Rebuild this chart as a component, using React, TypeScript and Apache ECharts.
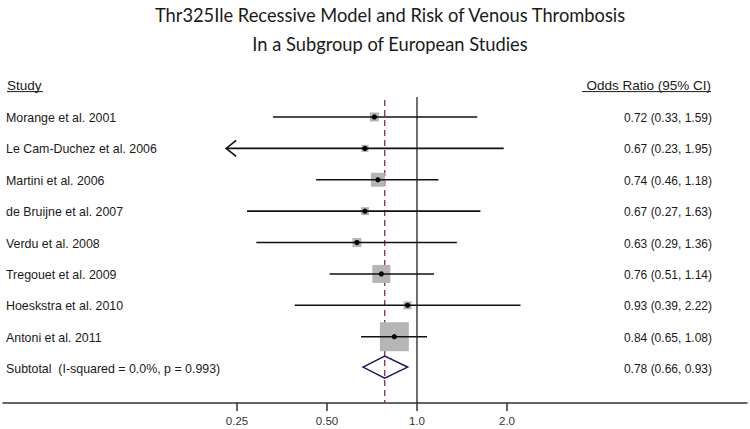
import React, { useEffect, useRef } from "react";
import * as echarts from "echarts";

const titleLines = [
  "Thr325Ile Recessive Model and Risk of Venous Thrombosis",
  "In a Subgroup of European Studies",
];
const studyHeader = "Study";
const ratioHeader = "Odds Ratio (95% CI)";

const studies = [
  "Morange et al. 2001",
  "Le Cam-Duchez et al. 2006",
  "Martini et al. 2006",
  "de Bruijne et al. 2007",
  "Verdu et al. 2008",
  "Tregouet et al. 2009",
  "Hoeskstra et al. 2010",
  "Antoni et al. 2011",
];
const oddsRatios = [0.72, 0.67, 0.74, 0.67, 0.63, 0.76, 0.93, 0.84];
const lowerCI = [0.33, 0.23, 0.46, 0.27, 0.29, 0.51, 0.39, 0.65];
const upperCI = [1.59, 1.95, 1.18, 1.63, 1.36, 1.14, 2.22, 1.08];
const weights = [4.8, 2.9, 11.5, 3.8, 4.8, 19.1, 3.8, 49.5];
const clippedLeft = [false, true, false, false, false, false, false, false];

const subtotalLabel = "Subtotal  (I-squared = 0.0%, p = 0.993)";
const subtotalOR = 0.78;
const subtotalLower = 0.66;
const subtotalUpper = 0.93;

const tickValues = [0.25, 0.5, 1, 2];
const tickLabels = ["0.25", "0.50", "1.0", "2.0"];

const TEXT_FONT = "'Liberation Sans', Arial, sans-serif";
const fmt = (or: number, lo: number, hi: number) =>
  `${or.toFixed(2)} (${lo.toFixed(2)}, ${hi.toFixed(2)})`;

export default function App() {
  const ref = useRef<HTMLDivElement>(null);

  useEffect(() => {
    if (!ref.current) return;
    const chart = echarts.init(ref.current, null, { renderer: "svg" });
    const log2 = (v: number) => Math.log2(v);
    const nRows = studies.length;
    const subtotalRow = nRows;
    const axisRow = 9.08;
    const lineTopRow = -0.67;

    const option: any = {
      animation: false,
      backgroundColor: "#ffffff",
      grid: { left: 3, right: 3, top: 86.6, bottom: 26 },
      xAxis: {
        type: "value",
        position: "bottom",
        min: -4.6,
        max: 3.667,
        splitLine: { show: false },
        axisLine: { show: true, onZero: false, lineStyle: { color: "#333", width: 1.5 } },
        axisTick: {
          show: true,
          customValues: tickValues.map(log2),
          length: 8,
          inside: false,
          lineStyle: { color: "#333", width: 1.5 },
        },
        axisLabel: {
          show: true,
          customValues: tickValues.map(log2),
          margin: 12,
          color: "#333",
          fontSize: 11.5,
          fontFamily: TEXT_FONT,
          formatter: (v: number) => {
            const idx = tickValues.findIndex((t) => Math.abs(log2(t) - v) < 1e-6);
            return idx >= 0 ? tickLabels[idx] : "";
          },
        },
      },
      yAxis: { type: "value", inverse: true, min: -1, max: axisRow, show: false },
      graphic: titleLines.map((t, i) => ({
        type: "text",
        x: 390,
        y: 15 + i * 29,
        style: {
          text: t,
          x: 0,
          y: 0,
          fill: "#1a1a1a",
          fontSize: 18.3,
          fontFamily: "Lato, sans-serif",
          align: "center",
          verticalAlign: "middle",
        },
      })),
      series: [
        {
          type: "custom",
          name: "reference",
          data: [[log2(1), 0], [log2(subtotalOR), 1]],
          encode: { x: 0 },
          z: 1,
          renderItem: (params: any, api: any) => {
            const x = api.value(0);
            const p1 = api.coord([x, lineTopRow]);
            const p2 = api.coord([x, axisRow]);
            const dashed = params.dataIndex === 1;
            return {
              type: "line",
              shape: { x1: p1[0], y1: dashed ? p1[1] + 3 : p1[1], x2: p2[0], y2: p2[1] },
              style: dashed
                ? { stroke: "#8e2a3c", lineWidth: 1.3, lineDash: [6, 4] }
                : { stroke: "#222", lineWidth: 1.3 },
            };
          },
        },
        {
          type: "custom",
          name: "studies",
          data: studies.map((_, i) => [log2(oddsRatios[i]), i]),
          encode: { x: 0, y: 1 },
          z: 2,
          renderItem: (params: any, api: any) => {
            const i = params.dataIndex;
            const c = api.coord([log2(oddsRatios[i]), i]);
            const l = api.coord([log2(lowerCI[i]), i]);
            const h = api.coord([log2(upperCI[i]), i]);
            const y = c[1];
            const size = 4.12 * Math.sqrt(weights[i]);
            const children: any[] = [
              {
                type: "rect",
                shape: { x: c[0] - size / 2, y: y - 1 - size / 2, width: size, height: size },
                style: { fill: "#b5b5b5" },
              },
              {
                type: "line",
                shape: { x1: l[0], y1: y - 1, x2: h[0], y2: y - 1 },
                style: { stroke: "#111", lineWidth: 1.6 },
              },
              {
                type: "circle",
                shape: { cx: c[0], cy: y - 1, r: 2.6 },
                style: { fill: "#000" },
              },
              {
                type: "text",
                style: {
                  text: studies[i],
                  x: 6,
                  y,
                  fill: "#1a1a1a",
                  fontSize: 12.4,
                  fontFamily: TEXT_FONT,
                  align: "left",
                  verticalAlign: "middle",
                },
              },
              {
                type: "text",
                style: {
                  text: fmt(oddsRatios[i], lowerCI[i], upperCI[i]),
                  x: 712,
                  y,
                  fill: "#1a1a1a",
                  fontSize: 12,
                  fontFamily: TEXT_FONT,
                  align: "right",
                  verticalAlign: "middle",
                },
              },
            ];
            if (clippedLeft[i]) {
              children.push({
                type: "polyline",
                shape: { points: [[l[0] + 10, y - 9], [l[0], y - 1], [l[0] + 10, y + 7]] },
                style: { stroke: "#111", lineWidth: 1.6, fill: "none" },
              });
            }
            return { type: "group", children };
          },
        },
        {
          type: "custom",
          name: "subtotal",
          data: [[log2(subtotalOR), subtotalRow]],
          encode: { x: 0, y: 1 },
          z: 3,
          renderItem: (_params: any, api: any) => {
            const c = api.coord([log2(subtotalOR), subtotalRow]);
            const l = api.coord([log2(subtotalLower), subtotalRow]);
            const h = api.coord([log2(subtotalUpper), subtotalRow]);
            const y = c[1] - 2;
            const half = 11;
            return {
              type: "group",
              children: [
                {
                  type: "polygon",
                  shape: { points: [[l[0], y], [c[0], y - half], [h[0], y], [c[0], y + half]] },
                  style: { stroke: "#1c1c5e", lineWidth: 1.6, fill: "rgba(255,255,255,0)" },
                },
                {
                  type: "text",
                  style: {
                    text: subtotalLabel,
                    x: 6,
                    y: c[1],
                    fill: "#1a1a1a",
                    fontSize: 12.4,
                    fontFamily: TEXT_FONT,
                    align: "left",
                    verticalAlign: "middle",
                  },
                },
                {
                  type: "text",
                  style: {
                    text: fmt(subtotalOR, subtotalLower, subtotalUpper),
                    x: 712,
                    y: c[1],
                    fill: "#1a1a1a",
                    fontSize: 12,
                    fontFamily: TEXT_FONT,
                    align: "right",
                    verticalAlign: "middle",
                  },
                },
              ],
            };
          },
        },
        {
          type: "custom",
          name: "headers",
          data: [[0, -1]],
          encode: { x: 0, y: 1 },
          z: 3,
          renderItem: (_params: any, api: any) => {
            const y = api.coord([0, -1])[1] - 1.5;
            return {
              type: "group",
              children: [
                {
                  type: "text",
                  style: {
                    text: studyHeader,
                    x: 7,
                    y,
                    fill: "#1a1a1a",
                    fontSize: 13.5,
                    fontFamily: TEXT_FONT,
                    align: "left",
                    verticalAlign: "middle",
                  },
                },
                {
                  type: "line",
                  shape: { x1: 7, y1: y + 6.5, x2: 43, y2: y + 6.5 },
                  style: { stroke: "#1a1a1a", lineWidth: 1 },
                },
                {
                  type: "text",
                  style: {
                    text: ratioHeader,
                    x: 711,
                    y,
                    fill: "#1a1a1a",
                    fontSize: 13.5,
                    fontFamily: TEXT_FONT,
                    align: "right",
                    verticalAlign: "middle",
                  },
                },
                {
                  type: "line",
                  shape: { x1: 582, y1: y + 6.5, x2: 711, y2: y + 6.5 },
                  style: { stroke: "#1a1a1a", lineWidth: 1 },
                },
              ],
            };
          },
        },
      ],
    };

    chart.setOption(option);
    return () => chart.dispose();
  }, []);

  return (
    <div
      ref={ref}
      style={{ position: "fixed", left: 0, top: 0, width: 750, height: 429, background: "#fff" }}
    />
  );
}
